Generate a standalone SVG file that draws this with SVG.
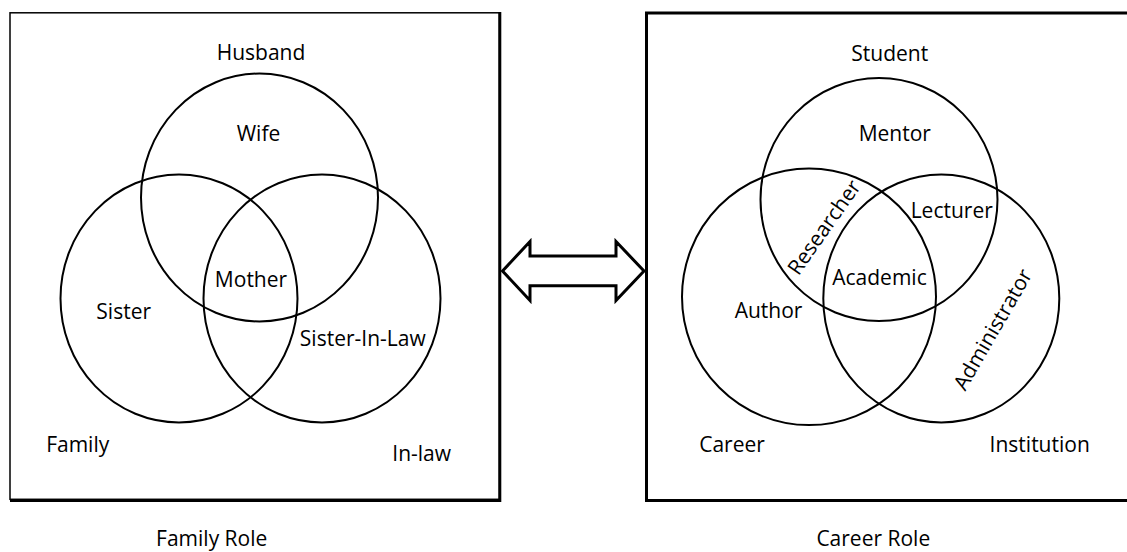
<svg xmlns="http://www.w3.org/2000/svg" width="1127" height="552" viewBox="0 0 1127 552">
<style>
.t{font-family:"Open Sans","Noto Sans","Liberation Sans",sans-serif;font-size:21px;fill:#000;text-anchor:middle}
.c{fill:none;stroke:#000;stroke-width:2}
.box{fill:none;stroke:#000}
</style>
<rect width="1127" height="552" fill="#fff"/>
<g id="family-panel">
<rect class="box" x="10" y="12.8" width="489.5" height="486.5" stroke-width="1.5"/>
<path d="M499.8 12 V500.5 H10" fill="none" stroke="#000" stroke-width="3"/>
</g>
<g id="career-panel">
<rect class="box" x="646.5" y="13" width="500" height="487.5" stroke-width="3"/>
</g>
<g id="family-venn">
<ellipse id="c-husband" class="c" cx="259.5" cy="197.5" rx="118.5" ry="124"/>
<ellipse id="c-family" class="c" cx="179" cy="298.5" rx="118.5" ry="124"/>
<ellipse id="c-inlaw" class="c" cx="322" cy="298.5" rx="118.5" ry="124"/>
</g>
<g id="career-venn">
<ellipse id="c-student" class="c" cx="879" cy="199.5" rx="118.5" ry="121.5"/>
<ellipse id="c-career" class="c" cx="809" cy="296.8" rx="127" ry="128.3"/>
<ellipse id="c-institution" class="c" cx="941.3" cy="298.5" rx="118" ry="124"/>
</g>
<g id="connectors">
<path id="double-arrow" d="M502.5 271 L530 241.5 V256 H616 V241.5 L644 271 L616 300.5 V285.7 H530 V300.5 Z" fill="#fff" stroke="#000" stroke-width="3" stroke-linejoin="miter"/>
</g>
<g id="labels-family">
<text class="t" x="261" y="59.5">Husband</text>
<text class="t" x="258.5" y="141">Wife</text>
<text class="t" x="251" y="287.3">Mother</text>
<text class="t" x="123.7" y="319">Sister</text>
<text class="t" x="362.8" y="346">Sister-In-Law</text>
<text class="t" x="77.7" y="452.3">Family</text>
<text class="t" x="421.7" y="461">In-law</text>
<text class="t" x="211.7" y="546">Family Role</text>
</g>
<g id="labels-career">
<text class="t" x="889.7" y="60.7">Student</text>
<text class="t" x="894.8" y="141">Mentor</text>
<text class="t" x="951.7" y="218.3">Lecturer</text>
<text class="t" x="879.5" y="285">Academic</text>
<text class="t" x="768.5" y="317.7">Author</text>
<text class="t" x="732" y="452.3">Career</text>
<text class="t" x="1039.7" y="452.3">Institution</text>
<text class="t" x="873.3" y="546">Career Role</text>
<text class="t" transform="translate(830 231.5) rotate(-55)">Researcher</text>
<text class="t" transform="translate(999 333) rotate(-60)">Administrator</text>
</g>
</svg>
